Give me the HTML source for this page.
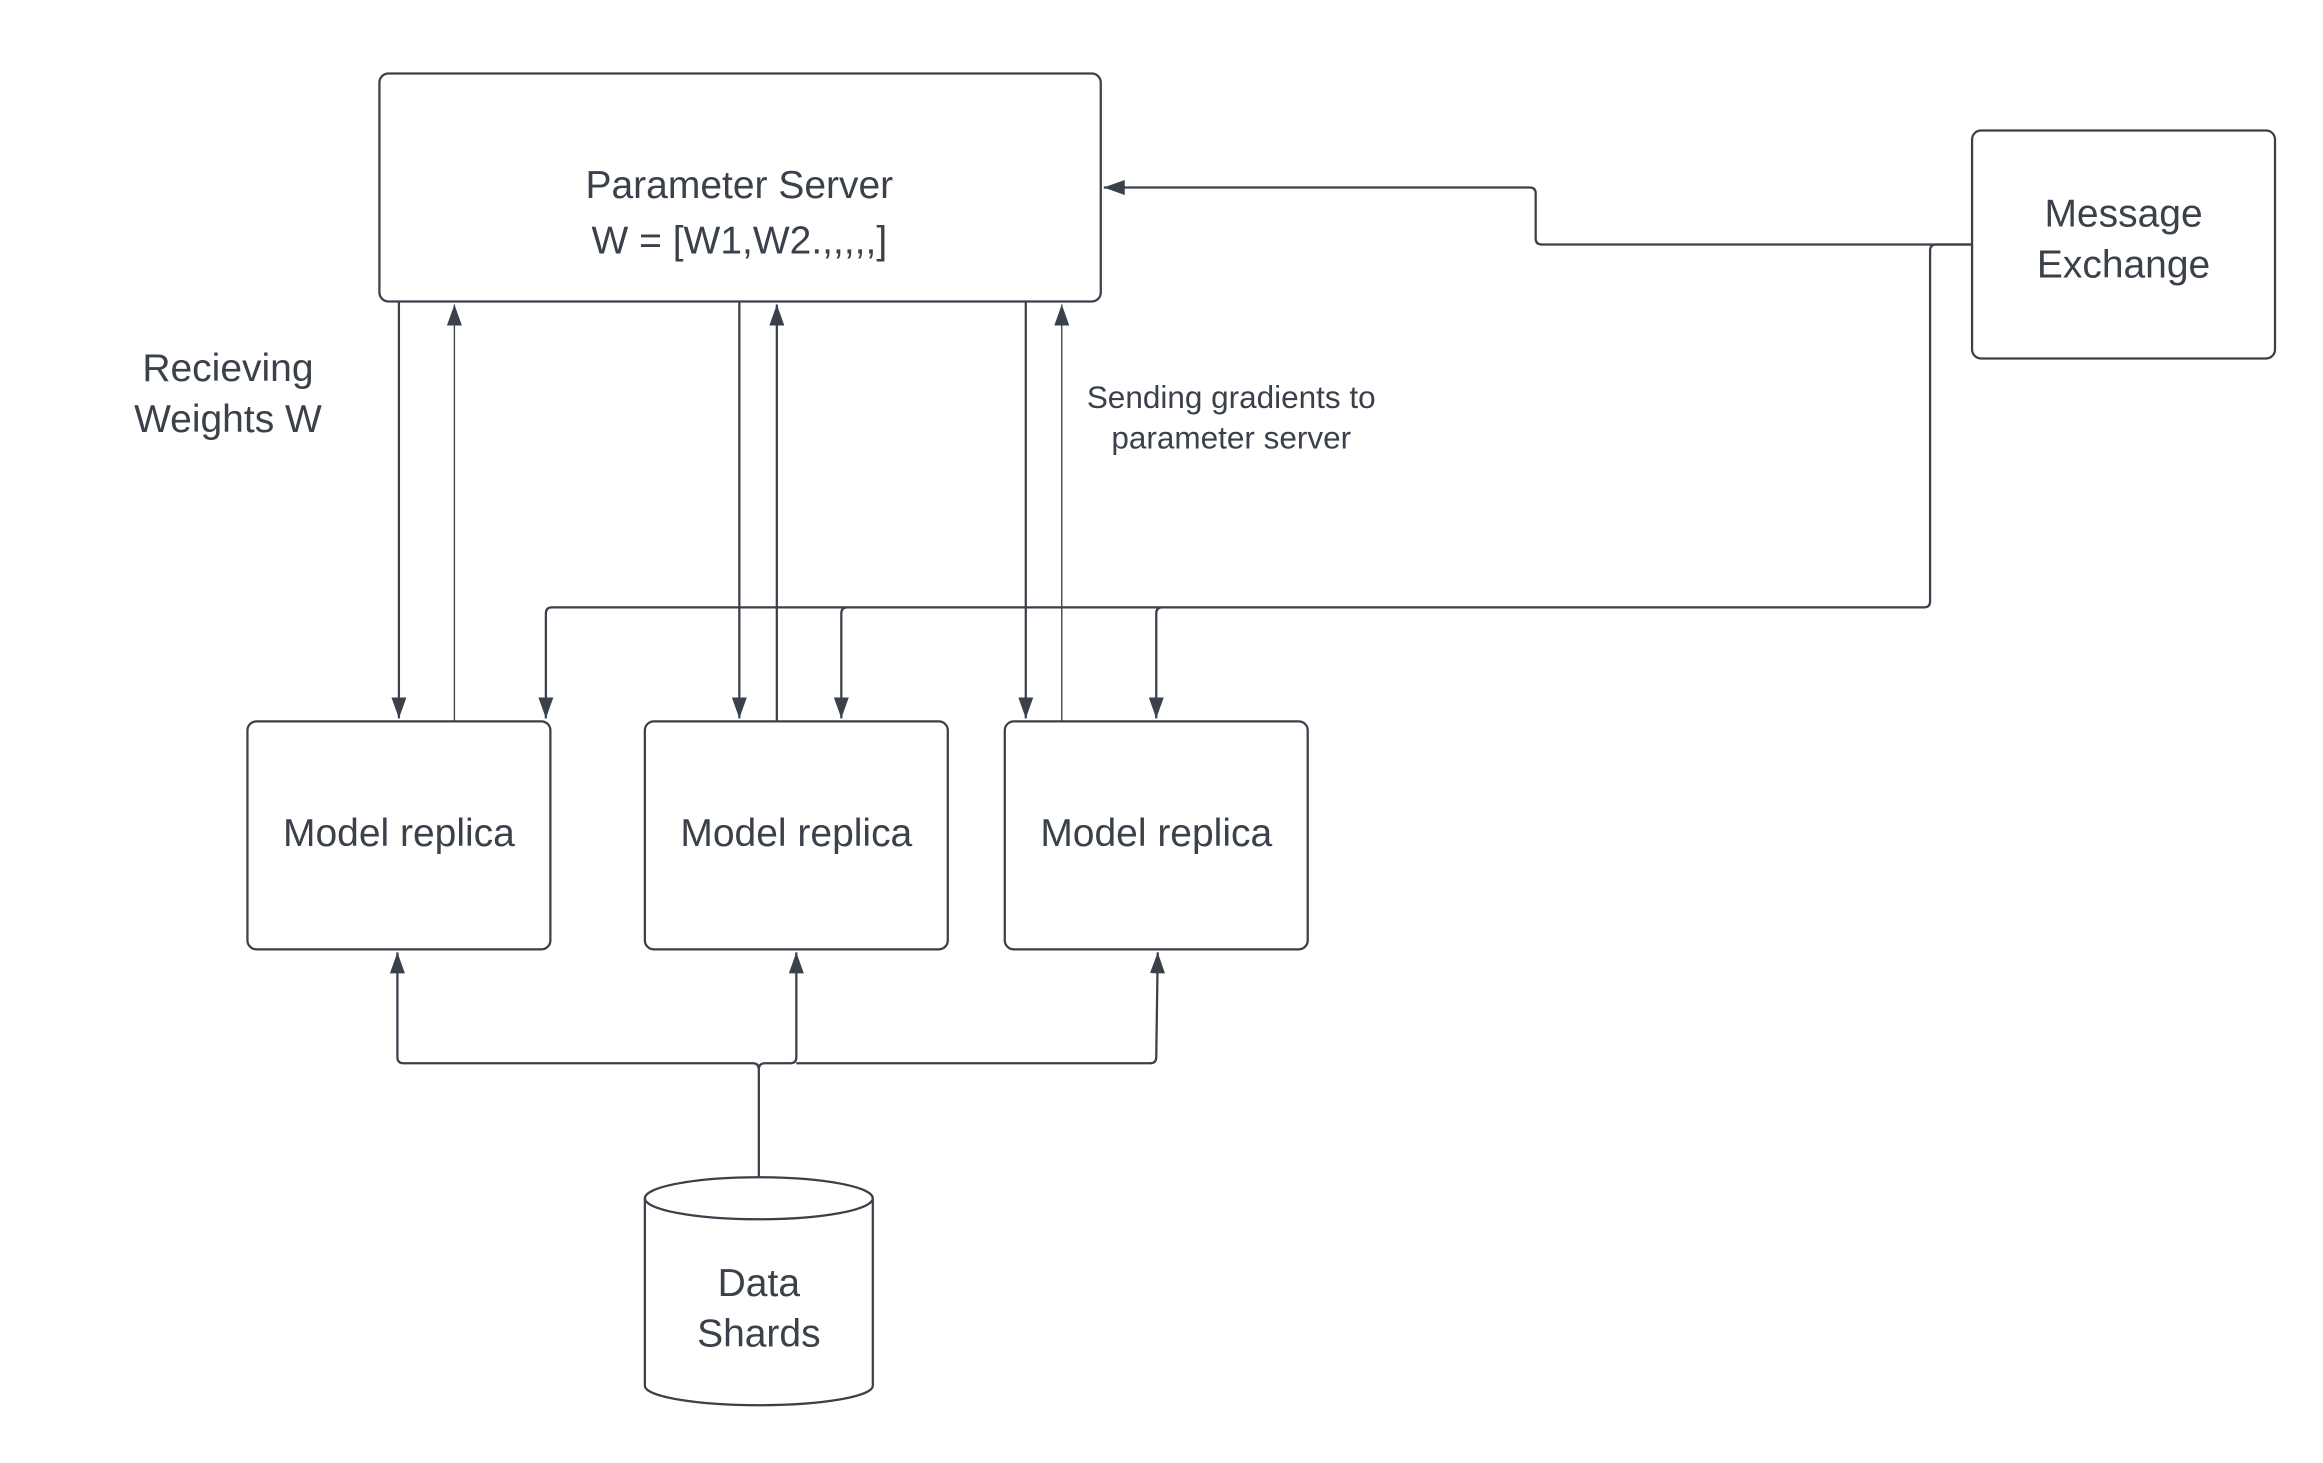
<!DOCTYPE html>
<html><head><meta charset="utf-8"><style>html,body{margin:0;padding:0;background:#fff}svg{display:block}</style></head>
<body>
<svg width="2323" height="1463" viewBox="0 0 1549 975.5" xmlns="http://www.w3.org/2000/svg" font-family="Liberation Sans, sans-serif" fill="none">
<defs>
<marker id="a" viewBox="0 0 14 10" refX="14" refY="5" markerWidth="14" markerHeight="10" markerUnits="userSpaceOnUse" orient="auto"><path d="M0,0 L14,5 L0,10 z" fill="#3a414a"/></marker>
</defs>
<g stroke="#3a414a" stroke-width="1.5">
<rect x="253" y="49" width="481" height="152" rx="6"/>
<rect x="1315" y="87" width="202" height="152" rx="6"/>
<rect x="165" y="481" width="202" height="152" rx="6"/>
<rect x="430" y="481" width="202" height="152" rx="6"/>
<rect x="670" y="481" width="202" height="152" rx="6"/>
<path d="M430,799 L430,924 A76,13 0 0 0 582,924 L582,799" fill="#fff"/>
<ellipse cx="506" cy="799" rx="76" ry="14" fill="#fff"/>
</g>
<g stroke="#3a414a" stroke-width="1.5" marker-end="url(#a)">
<path d="M266,201 L266,479"/>
<path d="M493,201 L493,479"/>
<path d="M684,201 L684,479"/>
<path d="M303,481 L303,203" stroke-width="0.9"/>
<path d="M518,481 L518,203"/>
<path d="M708,481 L708,203" stroke-width="0.9"/>
<path d="M1315,163 L1028,163 Q1024,163 1024,159 L1024,129 Q1024,125 1020,125 L736,125"/>
<path d="M1315,163 L1291,163 Q1287,163 1287,167 L1287,401 Q1287,405 1283,405 L368,405 Q364,405 364,409 L364,479"/>
<path d="M565,405 Q561,405 561,409 L561,479"/>
<path d="M775,405 Q771,405 771,409 L771,479"/>
<path d="M506,785 L506,713 Q506,709 502,709 L269,709 Q265,709 265,705 L265,635"/>
<path d="M506,713 Q506,709 510,709 L527,709 Q531,709 531,705 L531,635"/>
<path d="M531,709 L767,709 Q771,709 771,705 L772,635"/>
</g>
<g fill="#3a414a" text-anchor="middle" font-size="26">
<text x="493" y="132">Parameter Server</text>
<text x="493" y="169">W = [W1,W2.,,,,,]</text>
<text x="1416" y="151">Message</text>
<text x="1416" y="185">Exchange</text>
<text x="266" y="564">Model replica</text>
<text x="531" y="564">Model replica</text>
<text x="771" y="564">Model replica</text>
<text x="506" y="864">Data</text>
<text x="506" y="898">Shards</text>
<text x="152" y="254">Recieving</text>
<text x="152" y="288">Weights W</text>
<text x="821" y="272" font-size="21">Sending gradients to</text>
<text x="821" y="299" font-size="21">parameter server</text>
</g>
</svg>
</body></html>
